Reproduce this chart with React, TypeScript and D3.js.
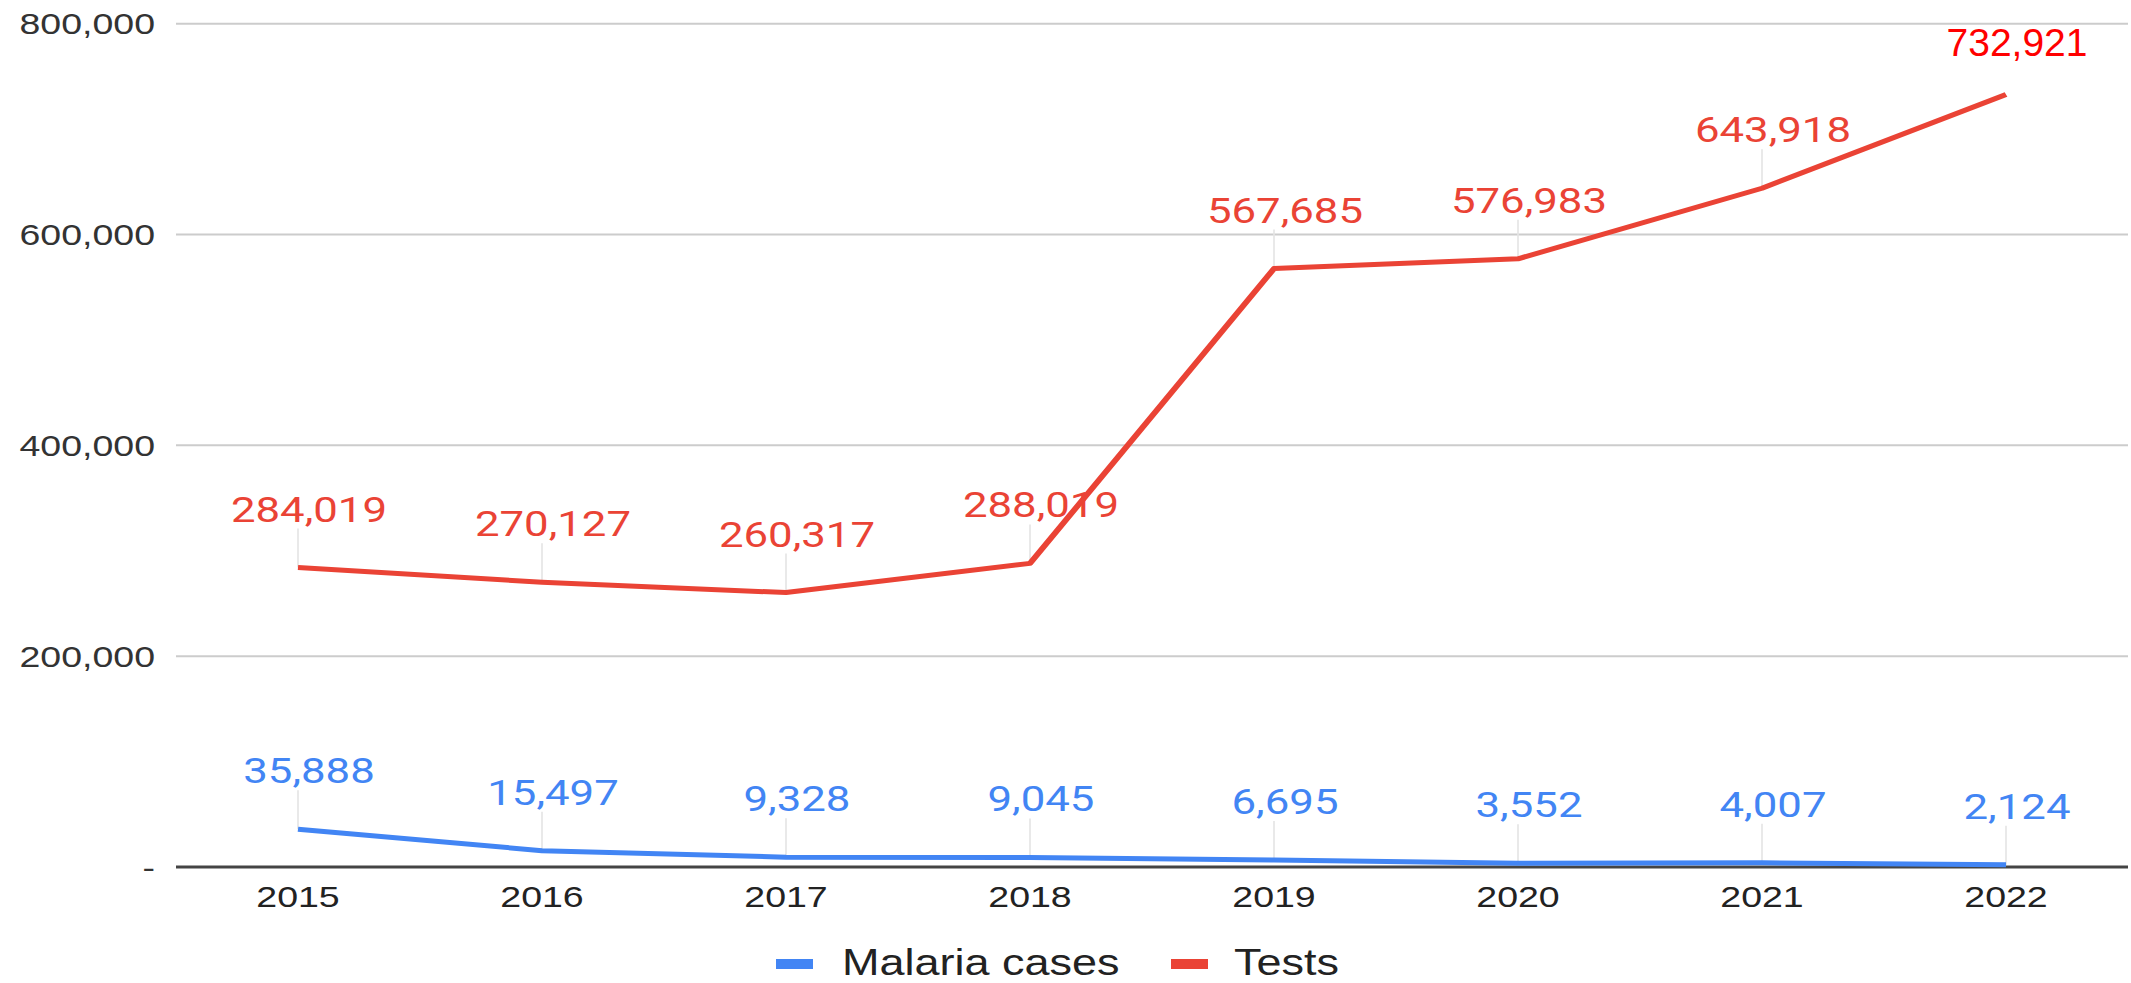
import React from "react";
import * as d3 from "d3";

const years = ["2015", "2016", "2017", "2018", "2019", "2020", "2021", "2022"];
const malariaCases = [35888, 15497, 9328, 9045, 6695, 3552, 4007, 2124];
const tests = [284019, 270127, 260317, 288019, 567685, 576983, 643918, 732921];
const yTicks = [0, 200000, 400000, 600000, 800000];
const seriesNames = ["Malaria cases", "Tests"];

const W = 2131;
const H = 983;
const SX = 1.25; // horizontal stretch of the reference
const VW = W / SX;
const BLUE = "#4285F4";
const RED = "#EA4335";

export default function App() {
  const x = d3
    .scalePoint<string>()
    .domain(years)
    .range([176 / SX, 2128 / SX])
    .padding(0.5);
  const y = d3.scaleLinear().domain([0, 800000]).range([867, 23.7]);
  const fmt = d3.format(",");
  const line = d3
    .line<number>()
    .x((_, i) => x(years[i]) as number)
    .y((d) => y(d));

  const left = 176 / SX;
  const right = 2128 / SX;
  const lastIdx = years.length - 1;

  const labelFor = (vals: number[], color: string, skipLast: boolean) =>
    vals.map((v, i) => {
      if (skipLast && i === lastIdx) return null;
      const px = x(years[i]) as number;
      const py = y(v);
      return (
        <g key={i}>
          <line x1={px} x2={px} y1={py - 39} y2={py} stroke="#e4e4e4" strokeWidth={1.3} />
          <text
            x={px + 11 / SX}
            y={py - 46}
            textAnchor="middle"
            fontFamily="Roboto, 'Noto Sans', sans-serif"
            fontSize={35}
            fill={color}
          >
            {fmt(v)}
          </text>
        </g>
      );
    });

  const lastX = x(years[lastIdx]) as number;
  const lastY = y(tests[lastIdx]);

  return (
    <svg
      width={W}
      height={H}
      viewBox={`0 0 ${VW} ${H}`}
      preserveAspectRatio="none"
      style={{ position: "absolute", left: 0, top: 0, background: "#fff" }}
    >
      <rect x={0} y={0} width={VW} height={H} fill="#fff" />
      {yTicks.map((t) => (
        <g key={t}>
          {t !== 0 && (
            <line x1={left} x2={right} y1={y(t)} y2={y(t)} stroke="#cccccc" strokeWidth={2} />
          )}
          <text
            x={155 / SX}
            y={y(t)}
            dy="0.36em"
            textAnchor="end"
            fontFamily="'Liberation Sans', Arial, sans-serif"
            fontSize={30}
            fill="#333"
          >
            {t === 0 ? "-" : fmt(t)}
          </text>
        </g>
      ))}
      <line x1={left} x2={right} y1={y(0)} y2={y(0)} stroke="#444" strokeWidth={3} />
      {years.map((yr) => (
        <text
          key={yr}
          x={x(yr) as number}
          y={907}
          textAnchor="middle"
          fontFamily="'Liberation Sans', Arial, sans-serif"
          fontSize={30}
          fill="#222"
        >
          {yr}
        </text>
      ))}
      {labelFor(malariaCases, BLUE, false)}
      {labelFor(tests, RED, true)}
      <path d={line(malariaCases) || ""} fill="none" stroke={BLUE} strokeWidth={5} strokeLinejoin="round" />
      <path d={line(tests) || ""} fill="none" stroke={RED} strokeWidth={5} strokeLinejoin="round" />
      <text
        transform={`translate(${lastX + 11 / SX},${lastY - 38}) scale(${1 / SX},1)`}
        textAnchor="middle"
        fontFamily="'Liberation Sans', Arial, sans-serif"
        fontSize={39}
        fill="#ff0000"
      >
        {fmt(tests[lastIdx])}
      </text>
      {/* legend */}
      <g>
        <rect x={776 / SX} y={959} width={37 / SX} height={10} fill={BLUE} />
        <text x={842 / SX} y={975} fontFamily="'Liberation Sans', Arial, sans-serif" fontSize={36} fill="#222">
          {seriesNames[0]}
        </text>
        <rect x={1171 / SX} y={959} width={37 / SX} height={10} fill={RED} />
        <text x={1234 / SX} y={975} fontFamily="'Liberation Sans', Arial, sans-serif" fontSize={36} fill="#222">
          {seriesNames[1]}
        </text>
      </g>
    </svg>
  );
}
